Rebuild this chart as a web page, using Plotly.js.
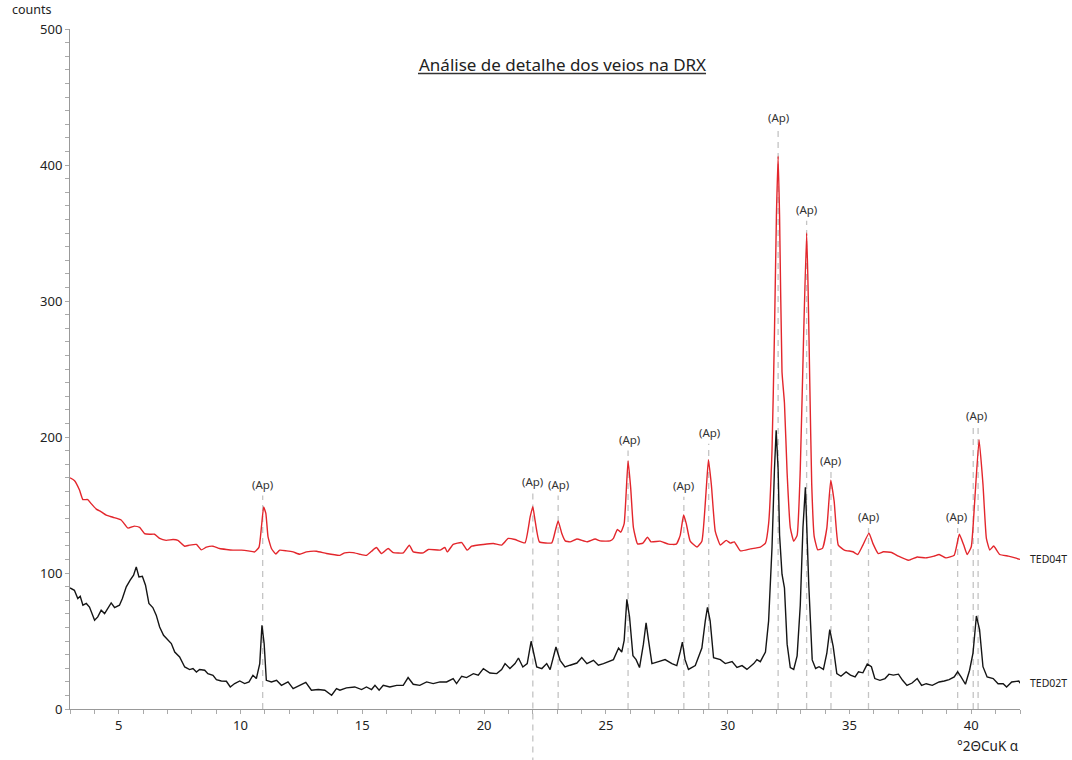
<!DOCTYPE html>
<html>
<head>
<meta charset="utf-8">
<script src="https://cdn.plot.ly/plotly-3.0.1.min.js"></script>
<style>html,body{margin:0;padding:0;background:#fff;}#chart{width:1072px;height:760px;}</style>
</head>
<body>
<div id="chart"></div>
<script>
// TED04T (red) — two-theta and counts
const ted04tX = [3.0,3.18,3.39,3.53,3.73,3.87,4.08,4.28,4.49,4.76,5.1,5.38,5.65,5.86,6.06,6.27,6.47,6.68,6.95,7.23,7.43,7.71,7.91,8.19,8.39,8.6,8.87,9.14,9.42,9.69,10.04,10.31,10.58,10.76,10.86,10.95,11.04,11.13,11.27,11.45,11.61,11.89,12.16,12.43,12.71,13.12,13.53,14.08,14.28,14.62,14.9,15.17,15.38,15.58,15.79,16.06,16.27,16.68,16.93,17.09,17.5,17.71,18.19,18.39,18.49,18.73,19.08,19.31,19.49,19.97,20.38,20.72,20.99,21.27,21.68,21.89,22.0,22.09,22.27,22.78,22.93,23.04,23.19,23.33,23.53,23.81,24.22,24.56,24.76,25.17,25.31,25.47,25.61,25.75,25.91,26.02,26.13,26.3,26.52,26.71,26.85,27.23,27.57,27.89,28.05,28.19,28.3,28.46,28.74,28.94,29.12,29.21,29.33,29.49,29.7,29.94,30.11,30.27,30.52,30.93,31.34,31.55,31.68,31.82,31.92,32.0,32.07,32.13,32.23,32.33,32.44,32.57,32.71,32.85,32.98,33.12,33.24,33.3,33.37,33.45,33.55,33.7,33.89,34.07,34.23,34.37,34.54,34.79,35.14,35.34,35.55,35.8,35.96,36.18,36.39,36.73,37.01,37.43,37.78,38.12,38.47,38.68,38.96,39.3,39.51,39.69,39.83,40.0,40.14,40.32,40.48,40.62,40.76,40.92,41.17,41.52,41.8,42.0];
const ted04tY = [170,168,161,154,154,151,147,145,142.5,141,139,133,134.5,133.5,129,128.5,128.5,125.4,124,124.6,124,119.7,120.5,121,117,119,119.7,118,117.3,116.8,116.8,116.3,115.5,119,134,148.6,143.8,126.6,118,114,116.8,116.3,115.5,113.8,115.5,116,114.3,113,114.8,115,113.8,113,116,118.7,114.3,118,115,114.8,120.5,115.5,114.8,117.3,116.8,118.8,115.5,121,122.4,116.8,119.7,121,121.7,120.5,125.4,124.6,122.2,141.3,148.7,138.9,122.9,122.2,131.5,138.3,129,123.6,122.9,125,122.9,125,123.6,123.6,125.5,132,130,136.3,182.6,162,133.4,121.4,122,126.3,122.9,123.4,121.2,121.2,127.7,142.6,136.3,123.4,119.1,123.4,162,183.4,164.9,130.6,120.6,124,122,122.9,116.3,117.7,119.1,122,136.3,190.6,276.4,362.2,406.5,362,247.8,225,173.4,133.4,123.4,127.7,176.4,276.4,350,310,240,165,127,117,118.1,133,168.3,152.8,120.5,116.9,115.6,113.6,120.5,129.3,121.8,114.3,115.6,115.1,112.4,109.4,111.8,111.1,112.4,113.6,111.1,113.1,128.5,120.5,113.6,119.3,152.8,198,165.3,125.5,116.9,119.8,113.6,112.4,111.1,110];

// TED02T (black) — two-theta and counts
const ted02tX = [3.0,3.18,3.32,3.42,3.53,3.67,3.8,4.01,4.14,4.28,4.42,4.55,4.69,4.83,5.03,5.15,5.31,5.47,5.61,5.72,5.83,5.97,6.1,6.24,6.4,6.54,6.68,6.84,7.02,7.16,7.3,7.5,7.71,7.91,8.05,8.19,8.32,8.53,8.66,8.87,9.01,9.21,9.42,9.58,9.76,9.97,10.17,10.35,10.51,10.65,10.79,10.88,10.97,11.06,11.27,11.48,11.68,11.95,12.16,12.43,12.68,12.91,13.19,13.46,13.74,13.94,14.08,14.35,14.69,14.97,15.17,15.38,15.52,15.69,15.86,16.13,16.41,16.68,16.88,17.09,17.36,17.64,17.91,18.19,18.46,18.73,18.87,19.08,19.28,19.56,19.76,19.97,20.24,20.52,20.72,20.86,21.06,21.27,21.41,21.59,21.77,21.93,22.05,22.16,22.37,22.57,22.71,22.95,23.12,23.32,23.53,23.81,24.01,24.22,24.49,24.69,24.9,25.1,25.31,25.52,25.65,25.75,25.86,25.97,26.11,26.24,26.38,26.54,26.65,26.75,26.89,27.16,27.43,27.71,27.91,28.05,28.14,28.25,28.39,28.67,28.94,29.08,29.17,29.28,29.42,29.7,29.9,30.18,30.38,30.59,30.79,31.07,31.2,31.34,31.55,31.68,31.82,31.92,31.99,32.07,32.13,32.23,32.33,32.44,32.57,32.71,32.85,32.98,33.09,33.19,33.33,33.47,33.61,33.75,33.93,34.07,34.19,34.33,34.48,34.65,34.86,35.04,35.23,35.37,35.55,35.73,35.9,36.04,36.25,36.46,36.62,36.8,37.01,37.18,37.36,37.57,37.78,37.96,38.15,38.4,38.68,38.89,39.09,39.3,39.44,39.58,39.76,39.93,40.07,40.21,40.34,40.48,40.65,40.9,41.1,41.31,41.45,41.66,41.95,42.0];
const ted02tY = [89,87.3,81.2,82.9,76.3,77.6,75,65.3,67.7,72.6,70.2,73.9,78,74.6,76.3,81.2,89.8,94.7,98.4,104.5,97.1,97.6,91,77.6,74.6,69,60.3,54.2,50.6,48.1,41.9,38.3,30.9,29,29.7,27.2,29,28.5,26,24.8,21.6,20.6,20.4,16.2,18.7,20.6,18.7,19.9,24.8,22.4,33.4,61.6,48.1,21.1,19.9,21.1,17.4,19.9,15,17.4,19.6,13.8,14.3,13.8,10.1,15,13.8,15.5,16.2,14.3,16.2,14.3,17.4,13.8,17.4,16.2,17.4,17.4,23.1,18.2,17.4,19.9,18.7,19.9,19.9,22.4,18.7,24.1,23.1,26,24.8,29.7,26.5,26,29,33.4,29.7,33.4,37.5,30.9,33.4,49.8,40.8,30.9,29.7,33.4,29,45.6,35.8,30.9,32.2,33.8,37.8,33.4,35.8,32.2,33.4,34.8,36.3,44.8,41.9,50.5,80.6,67.7,39.1,36.3,30.5,47.7,63.4,50.5,33.4,34.8,36.3,33.4,31.9,41.9,49.1,36.3,29.1,31.9,44.8,64.8,74.8,64.8,37.7,36.3,33.4,34.8,30.5,31.9,29.1,33.4,36.3,34.8,41.9,64.8,119.1,176.3,204.9,176.3,127.7,99.1,89.1,47.7,30.5,29.1,39.1,76.3,133.4,163,90.7,36.1,29.8,31.1,29.1,41,58.4,46,26.1,24.1,27.3,24.9,23.6,27.3,26.6,33,31.1,22.4,21.1,22.4,25.6,24.9,25.6,21.1,17.4,19.1,22.4,17.4,18.6,17.4,19.9,20.6,21.6,23.6,27.3,23.6,18.2,28.5,41,68.4,58.4,31.1,23.6,22.4,18.6,18.6,16.1,19.9,20.6,19];

// Peak labels (Ap)
const apX = [10.91,22.0,23.04,25.95,28.2,29.24,32.07,33.24,34.22,35.78,39.4,40.2];
const apY = [165,167.5,165,198,164.6,203,435,367.6,183,141.8,141.8,216];
const apText = "(Ap)";
// Reference lines (dashed)
const refX = [10.91,22.0,23.04,25.91,28.2,29.22,32.07,33.24,34.24,35.78,39.44,40.08,40.28];
const refTop = [157,159,157,190,156,195,426,359,175,133,133,207,207];
const extendBelow = [false,true,false,false,false,false,false,false,false,false,false,false,false];

const seriesNames = ["TED04T","TED02T"];
const titleText = "Análise de detalhe dos veios na DRX";
const yLabel = "counts";
const xLabel = "°2ΘCuK α";

const FONT = "Noto Sans, Open Sans, sans-serif";

const traces = [
  {x: ted04tX, y: ted04tY, type:'scatter', mode:'lines', name: seriesNames[0],
   line:{color:'#e3262c', width:1.4, shape:'spline', smoothing:0.4}, hoverinfo:'x+y'},
  {x: ted02tX, y: ted02tY, type:'scatter', mode:'lines', name: seriesNames[1],
   line:{color:'#151515', width:1.4}, hoverinfo:'x+y'}
];

const shapes = refX.map((x,i)=>({
  type:'line', xref:'x', yref: extendBelow[i] ? 'paper' : 'y',
  x0:x, x1:x,
  y0: extendBelow[i] ? -0.08 : 0,
  y1: extendBelow[i] ? (refTop[i]/500) : refTop[i],
  line:{color:'#c4c4c4', width:1.3, dash:'6px,5px'}, layer:'below'
}));
// title underline
shapes.push({type:'line', xref:'paper', yref:'paper', x0:0.3663, x1:0.6695, y0:0.9346, y1:0.9346,
  line:{color:'#333', width:1.5}});

const annotations = apX.map((x,i)=>({
  x:x, y:apY[i], xref:'x', yref:'y', text:apText, showarrow:false,
  xanchor:'center', yanchor:'middle',
  font:{family:FONT, size:11.5, color:'#333'}
}));
annotations.push({x:42, y:ted04tY[ted04tY.length-1], xref:'x', yref:'y', xanchor:'left', yanchor:'middle', xshift:8,
  text:seriesNames[0], showarrow:false, font:{family:FONT, size:10.5, color:'#222'}});
annotations.push({x:42, y:ted02tY[ted02tY.length-1], xref:'x', yref:'y', xanchor:'left', yanchor:'middle', xshift:8,
  text:seriesNames[1], showarrow:false, font:{family:FONT, size:10.5, color:'#222'}});
annotations.push({x:0.518, y:0.9485, xref:'paper', yref:'paper', xanchor:'center', yanchor:'middle', text:titleText, showarrow:false,
  font:{family:FONT, size:17, color:'#222'}});
annotations.push({x:-0.04, y:1.0285, xref:'paper', yref:'paper', xanchor:'center', yanchor:'middle', text:yLabel, showarrow:false,
  font:{family:FONT, size:12.5, color:'#222'}});
annotations.push({x:0.966, y:-0.054, xref:'paper', yref:'paper', xanchor:'center', yanchor:'middle', text:xLabel, showarrow:false,
  font:{family:FONT, size:13.5, color:'#222'}});

const layout = {
  width:1072, height:760,
  margin:{l:70, r:52, t:29, b:51},
  paper_bgcolor:'#fff', plot_bgcolor:'#fff',
  showlegend:false,
  font:{family:FONT, size:13, color:'#222'},
  xaxis:{range:[3,42], tickvals:[5,10,15,20,25,30,35,40], ticks:'outside', ticklen:4, tickcolor:'#aaa',
    showline:true, linecolor:'#999', linewidth:1, showgrid:false, zeroline:false,
    minor:{dtick:1, tick0:0, ticks:'outside', ticklen:4, tickcolor:'#aaa', showgrid:false},
    tickfont:{family:FONT, size:13, color:'#222'}},
  yaxis:{range:[0,500], dtick:100, tick0:0, ticks:'outside', ticklen:4, tickcolor:'#aaa',
    showline:true, linecolor:'#999', linewidth:1, showgrid:false, zeroline:false,
    minor:{dtick:10, tick0:0, ticks:'outside', ticklen:4, tickcolor:'#aaa', showgrid:false},
    tickfont:{family:FONT, size:13, color:'#222'}},
  shapes: shapes,
  annotations: annotations
};

Plotly.newPlot('chart', traces, layout, {displayModeBar:false, staticPlot:true});
</script>
</body>
</html>
